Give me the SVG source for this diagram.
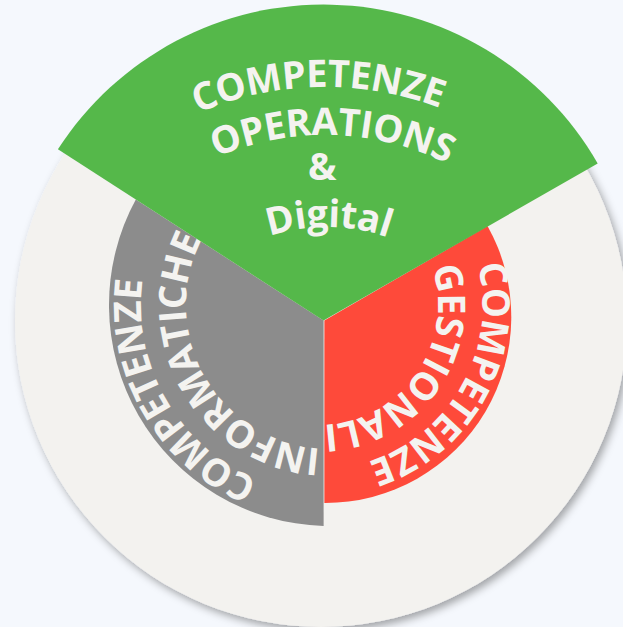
<svg xmlns="http://www.w3.org/2000/svg" width="623" height="627" viewBox="0 0 623 627">
  <defs>
    <style>
      .lbl { font-family: "Open Sans", "Liberation Sans", sans-serif; font-weight: 700; font-size: 38px; letter-spacing: -0.5px; fill: #f4f3f0; }
    </style>
    <filter id="shadow" x="-10%" y="-10%" width="125%" height="125%">
      <feDropShadow dx="3" dy="4" stdDeviation="4" flood-color="#000" flood-opacity="0.35"/>
    </filter>
    <path id="g1" d="M 5.8 360.6 A 323 323 0 0 1 641.85 347.26"/>
    <path id="g2" d="M 55.52 355.17 A 275 275 0 0 1 596.98 369.35"/>
    <path id="g4" d="M 147.07 376.65 A 183 183 0 0 1 507.49 379.8"/>
    <path id="i1" d="M 394.64 482.6 A 189 189 0 0 1 208.51 160.22"/>
    <path id="i2" d="M 378.07 440.74 A 144 144 0 0 1 238.4 193.89"/>
    <path id="r1" d="M 421.52 177.16 A 164.5 164.5 0 0 1 264.44 460.54"/>
    <path id="r2" d="M 401.96 219.26 A 120 120 0 0 1 268.43 414.28"/>
  </defs>

  <rect width="623" height="627" fill="#f5f8fd"/>

  <g id="ring">
    <circle cx="321" cy="321" r="306" fill="#f3f2ef" filter="url(#shadow)"/>
  </g>

  <g id="sector-informatiche">
    <path d="M 323.6 320.5 L 135.8 199.5 A 221 221 0 0 0 323.6 525.9 Z" fill="#8c8c8c"/>
    <text class="lbl"><textPath href="#i1" startOffset="50%" text-anchor="middle">COMPETENZE</textPath></text>
    <text class="lbl"><textPath href="#i2" startOffset="50%" text-anchor="middle">INFORMATICHE</textPath></text>
  </g>

  <g id="sector-gestionali">
    <path d="M 324.4 320.5 L 487.5 226 A 186 186 0 0 1 324.4 503 Z" fill="#fe4a3a"/>
    <text class="lbl"><textPath href="#r1" startOffset="50%" text-anchor="middle">COMPETENZE</textPath></text>
    <text class="lbl"><textPath href="#r2" startOffset="50%" text-anchor="middle">GESTIONALI</textPath></text>
  </g>

  <g id="sector-operations">
    <path d="M 323.5 320.5 L 57.9 149.3 A 316 316 0 0 1 597.7 163.5 Z" fill="#55b84a"/>
    <text class="lbl"><textPath href="#g1" startOffset="50%" text-anchor="middle">COMPETENZE</textPath></text>
    <text class="lbl"><textPath href="#g2" startOffset="50%" text-anchor="middle">OPERATIONS</textPath></text>
    <text class="lbl" x="322" y="180" text-anchor="middle">&amp;</text>
    <text class="lbl"><textPath href="#g4" startOffset="50%" text-anchor="middle">Digital</textPath></text>
  </g>

  <g id="connectors"/>
</svg>
